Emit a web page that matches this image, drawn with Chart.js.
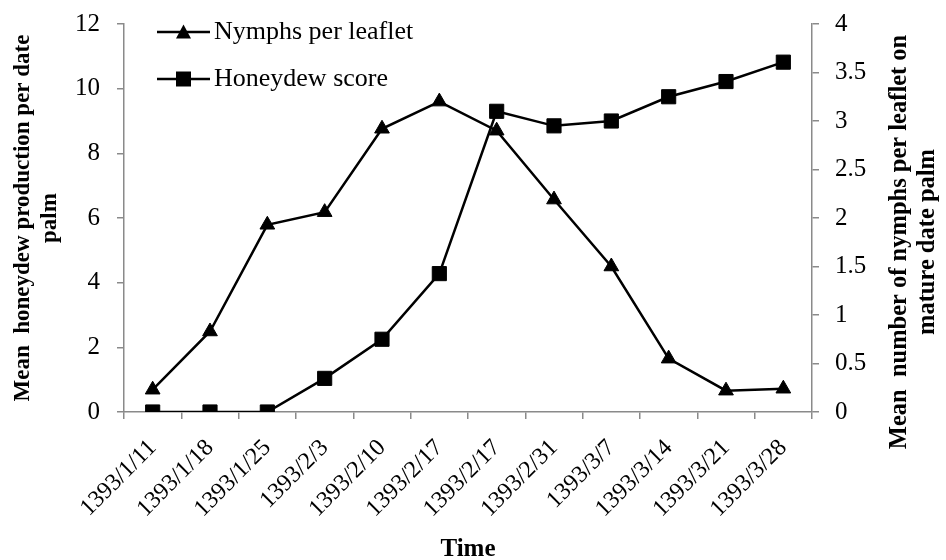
<!DOCTYPE html>
<html>
<head>
<meta charset="utf-8">
<script src="https://cdn.jsdelivr.net/npm/chart.js@4.4.1/dist/chart.umd.min.js"></script>
<style>
  html, body { margin: 0; padding: 0; background: #fff; }
</style>
</head>
<body>
<canvas id="chart" width="946" height="560"></canvas>
<script>
var dates = ["1393/1/11", "1393/1/18", "1393/1/25", "1393/2/3", "1393/2/10", "1393/2/17",
  "1393/2/17", "1393/2/31", "1393/3/7", "1393/3/14", "1393/3/21", "1393/3/28"];
var nymphs = [0.23, 0.83, 1.93, 2.06, 2.92, 3.2, 2.9, 2.19, 1.5, 0.55, 0.22, 0.24];
var honeydew = [0, 0, 0, 1.04, 2.25, 4.28, 9.3, 8.85, 9.0, 9.75, 10.22, 10.82];
var honeydewAxis = { max: 12, step: 2 };
var nymphAxis = { max: 4, step: 0.5 };
var leftTitle = ["Mean  honeydew production per date", "palm"];
var rightTitle = ["Mean  number of nymphs per leaflet on", "mature date palm"];

var serif = "'Liberation Serif', 'Times New Roman', serif";
var axisGray = "#8a8a8a";

// line + marker swatch for the legend
function swatch(shape) {
  var c = document.createElement("canvas");
  c.width = 53;
  c.height = 18;
  var g = c.getContext("2d");
  g.strokeStyle = "#000";
  g.lineWidth = 2.5;
  g.beginPath();
  g.moveTo(0, 9);
  g.lineTo(53, 9);
  g.stroke();
  g.fillStyle = "#000";
  g.beginPath();
  if (shape === "triangle") {
    g.moveTo(26.5, 1.5);
    g.lineTo(34, 15.5);
    g.lineTo(19, 15.5);
  } else {
    g.rect(19, 1.5, 15, 15);
  }
  g.fill();
  return c;
}

// legend sits inside the plot, top left
var legendSpot = {
  id: "legendSpot",
  afterLayout: function(chart) {
    chart.legend.left = chart.chartArea.left + 21;
    chart.legend.top = chart.chartArea.top - 26;
  }
};

var rightTitlePlugin = {
  id: "rightTitle",
  afterDraw: function(chart) {
    var ctx = chart.ctx;
    var s = chart.scales.y1;
    var mid = (chart.chartArea.top + chart.chartArea.bottom) / 2 + 24;
    ctx.save();
    ctx.translate(s.right - 46, mid);
    ctx.rotate(-Math.PI / 2);
    ctx.font = "bold 24.5px " + serif;
    ctx.fillStyle = "#000";
    ctx.textAlign = "center";
    ctx.textBaseline = "middle";
    ctx.fillText(rightTitle[0], 0, 0);
    ctx.fillText(rightTitle[1], 0, 28);
    ctx.restore();
  }
};

function fixWidth(w) {
  return function(scale) {
    scale.width = w;
    scale.paddingTop = 0;
    scale.paddingBottom = 0;
  };
}

new Chart(document.getElementById("chart").getContext("2d"), {
  type: "line",
  data: {
    labels: dates,
    datasets: [{
      label: "Nymphs per leaflet",
      data: nymphs,
      yAxisID: "y1",
      borderColor: "#000",
      backgroundColor: "#000",
      borderWidth: 2.5,
      pointStyle: "triangle",
      pointRadius: 8.5,
      pointBorderWidth: 1,
      tension: 0
    }, {
      label: "Honeydew score",
      data: honeydew,
      yAxisID: "y",
      borderColor: "#000",
      backgroundColor: "#000",
      borderWidth: 2.5,
      pointStyle: "rect",
      pointRadius: 10,
      pointBorderWidth: 1,
      tension: 0
    }]
  },
  options: {
    responsive: false,
    animation: false,
    layout: { padding: { top: 24, left: 0, right: 0, bottom: 0 } },
    plugins: {
      tooltip: { enabled: false },
      legend: {
        position: "chartArea",
        align: "start",
        labels: {
          usePointStyle: true,
          pointStyleWidth: 35,
          padding: 21,
          color: "#000",
          font: { family: serif, size: 26 },
          generateLabels: function(chart) {
            return chart.data.datasets.map(function(ds, i) {
              return {
                text: ds.label,
                pointStyle: swatch(ds.pointStyle === "triangle" ? "triangle" : "rect"),
                fillStyle: "#000",
                strokeStyle: "#000",
                lineWidth: 0,
                hidden: false,
                datasetIndex: i
              };
            });
          }
        }
      }
    },
    scales: {
      x: {
        offset: true,
        afterFit: function(scale) { scale.height = 148; },
        grid: { offset: true, drawOnChartArea: false, color: axisGray, tickLength: 7, lineWidth: 1.5 },
        border: { color: axisGray, width: 1.5 },
        ticks: {
          autoSkip: false,
          minRotation: 45,
          maxRotation: 45,
          padding: 15,
          color: "#000",
          font: { family: serif, size: 24 }
        },
        title: {
          display: true,
          text: "Time",
          color: "#000",
          padding: { top: 0, bottom: 0 },
          font: { family: serif, size: 25, weight: "bold", lineHeight: 0.8 }
        }
      },
      y: {
        position: "left",
        min: 0,
        max: honeydewAxis.max,
        afterFit: fixWidth(124),
        grid: { drawOnChartArea: false, color: axisGray, tickLength: 7, lineWidth: 1.5 },
        border: { color: axisGray, width: 1.5 },
        ticks: {
          stepSize: honeydewAxis.step,
          padding: 17,
          color: "#000",
          font: { family: serif, size: 25 }
        },
        title: {
          display: true,
          text: leftTitle,
          color: "#000",
          padding: { top: 10, bottom: 0 },
          font: { family: serif, size: 23, weight: "bold", lineHeight: 1.17 }
        }
      },
      y1: {
        position: "right",
        min: 0,
        max: nymphAxis.max,
        afterFit: fixWidth(134),
        grid: { drawOnChartArea: false, color: axisGray, tickLength: 7, lineWidth: 1.5 },
        border: { color: axisGray, width: 1.5 },
        ticks: {
          stepSize: nymphAxis.step,
          padding: 16,
          color: "#000",
          font: { family: serif, size: 25 },
          callback: function(value) { return String(value); }
        }
      }
    }
  },
  plugins: [legendSpot, rightTitlePlugin]
});
</script>
</body>
</html>
